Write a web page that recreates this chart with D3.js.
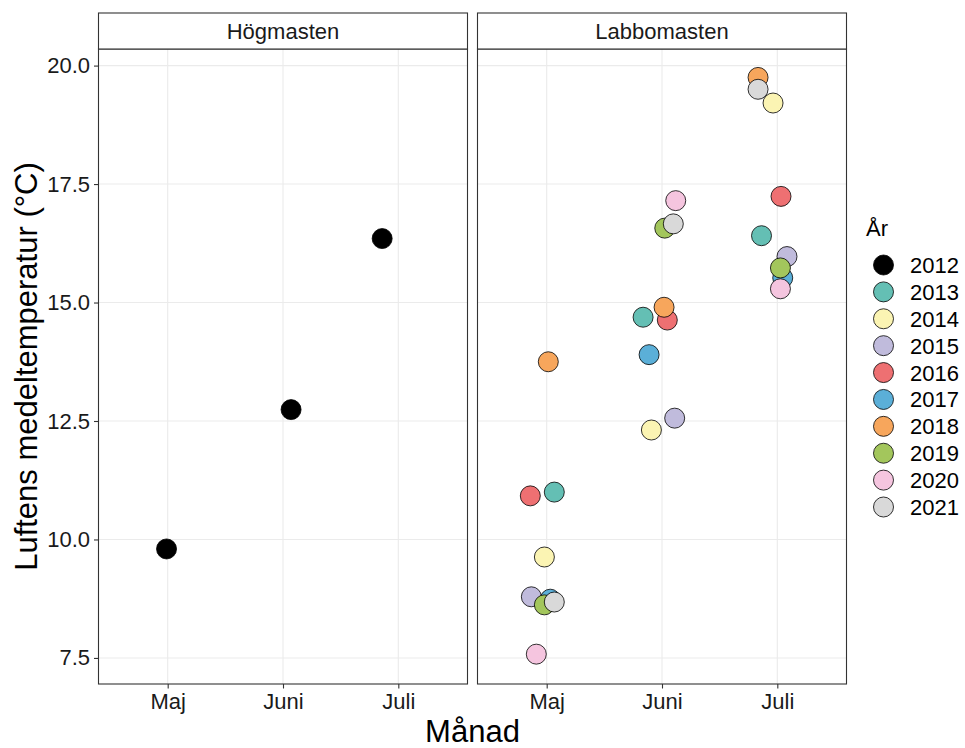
<!DOCTYPE html>
<html>
<head>
<meta charset="utf-8">
<script src="https://cdn.jsdelivr.net/npm/d3@7"></script>
<style>
  html, body { margin: 0; padding: 0; background: #ffffff; }
  svg { display: block; font-family: "Liberation Sans", Arial, sans-serif; }
</style>
</head>
<body>
<svg id="chart" width="965" height="748"></svg>
<script>
// Monthly mean air temperature at two masts, one point per year and month.
const months = ["Maj", "Juni", "Juli"];
const panels = ["Högmasten", "Labbomasten"];
const years = ["2012", "2013", "2014", "2015", "2016", "2017", "2018", "2019", "2020", "2021"];
const yearColors = ["#000000", "#64BFB4", "#FBF4B3", "#C0BBDC", "#EE7072", "#5BAFD8",
                    "#F7A65C", "#A3C65C", "#F5C5DF", "#D9D9D9"];
const yTicks = [7.5, 10.0, 12.5, 15.0, 17.5, 20.0];

// Högmasten, 2012 only: temperature per month and horizontal jitter (in month steps)
const hogTemp = [9.80, 12.74, 16.35];
const hogJitter = [-0.01, 0.07, -0.14];

// Labbomasten, 2013–2021: [Maj, Juni, Juli] temperatures and jitter per year
const labboYears = ["2013", "2014", "2015", "2016", "2017", "2018", "2019", "2020", "2021"];
const labboTemp = [
  [11.00, 14.69, 16.41],
  [9.63, 12.31, 19.21],
  [8.79, 12.56, 15.97],
  [10.92, 14.63, 17.24],
  [8.74, 13.90, 15.52],
  [13.75, 14.90, 19.75],
  [8.62, 16.57, 15.73],
  [7.58, 17.15, 15.29],
  [8.68, 16.66, 19.50]
];
const labboJitter = [
  [0.066, -0.164, -0.137],
  [-0.020, -0.092, -0.037],
  [-0.133, 0.110, 0.084],
  [-0.142, 0.046, 0.032],
  [0.031, -0.112, 0.047],
  [0.014, 0.018, -0.167],
  [-0.020, 0.024, 0.027],
  [-0.090, 0.119, 0.027],
  [0.066, 0.098, -0.167]
];

// Flat point lists per panel, in year order so later years sit on top
const pointsByPanel = {
  "Högmasten": months.map((m, i) => ({ year: "2012", month: m, temp: hogTemp[i], jit: hogJitter[i] })),
  "Labbomasten": labboYears.flatMap((yr, yi) =>
    months.map((m, mi) => ({ year: yr, month: m, temp: labboTemp[yi][mi], jit: labboJitter[yi][mi] })))
};

const svg = d3.select("#chart");
const panelTop = 49, panelBottom = 684, stripTop = 13;
const panelX = [[98.5, 467.5], [477.5, 846.5]];
const tickFont = 22, titleFont = 31, pointR = 10;

const color = d3.scaleOrdinal().domain(years).range(yearColors);
const y = d3.scaleLinear().domain([6.95, 20.35]).range([panelBottom, panelTop]);

panels.forEach((name, pi) => {
  const [x0, x1] = panelX[pi];
  const x = d3.scalePoint().domain(months).range([x0, x1]).padding(0.6);
  const step = x.step();
  const g = svg.append("g");

  // grid
  g.selectAll("line.hgrid").data(yTicks).join("line")
    .attr("x1", x0).attr("x2", x1)
    .attr("y1", d => y(d)).attr("y2", d => y(d))
    .attr("stroke", "#EBEBEB").attr("stroke-width", 1.1);
  g.selectAll("line.vgrid").data(months).join("line")
    .attr("x1", d => x(d)).attr("x2", d => x(d))
    .attr("y1", panelTop).attr("y2", panelBottom)
    .attr("stroke", "#EBEBEB").attr("stroke-width", 1.1);

  // points
  g.selectAll("circle.pt").data(pointsByPanel[name]).join("circle")
    .attr("cx", d => x(d.month) + d.jit * step)
    .attr("cy", d => y(d.temp))
    .attr("r", pointR)
    .attr("fill", d => color(d.year))
    .attr("stroke", "#000")
    .attr("stroke-width", 0.8);

  // panel border
  g.append("rect").attr("x", x0).attr("y", panelTop)
    .attr("width", x1 - x0).attr("height", panelBottom - panelTop)
    .attr("fill", "none").attr("stroke", "#333333").attr("stroke-width", 1.1);

  // strip
  g.append("rect").attr("x", x0).attr("y", stripTop)
    .attr("width", x1 - x0).attr("height", panelTop - stripTop)
    .attr("fill", "#ffffff").attr("stroke", "#333333").attr("stroke-width", 1.1);
  g.append("text").attr("x", (x0 + x1) / 2).attr("y", (stripTop + panelTop) / 2 + 7.5)
    .attr("text-anchor", "middle").attr("font-size", 22).attr("fill", "#1A1A1A")
    .text(name);

  // x axis
  const xAxis = g.append("g").attr("transform", `translate(0,${panelBottom})`)
    .call(d3.axisBottom(x).tickSize(4.5).tickPadding(5));
  xAxis.select(".domain").remove();
  xAxis.selectAll(".tick line").attr("stroke", "#333333").attr("stroke-width", 1.1);
  xAxis.selectAll(".tick text").attr("font-size", tickFont).attr("fill", "#1A1A1A")
    .attr("font-family", "Liberation Sans, Arial, sans-serif");

  // y axis on the first panel only
  if (pi === 0) {
    const yAxis = g.append("g").attr("transform", `translate(${x0},0)`)
      .call(d3.axisLeft(y).tickValues(yTicks).tickFormat(d3.format(".1f")).tickSize(4.5).tickPadding(4));
    yAxis.select(".domain").remove();
    yAxis.selectAll(".tick line").attr("stroke", "#333333").attr("stroke-width", 1.1);
    yAxis.selectAll(".tick text").attr("font-size", tickFont).attr("fill", "#1A1A1A")
      .attr("font-family", "Liberation Sans, Arial, sans-serif");
  }
});

// axis titles
svg.append("text")
  .attr("x", (panelX[0][0] + panelX[1][1]) / 2).attr("y", 742)
  .attr("text-anchor", "middle").attr("font-size", titleFont).attr("fill", "#000")
  .text("Månad");
svg.append("text")
  .attr("transform", `translate(37,${(panelTop + panelBottom) / 2}) rotate(-90)`)
  .attr("text-anchor", "middle").attr("font-size", titleFont).attr("fill", "#000")
  .text("Luftens medeltemperatur (°C)");

// legend
const legend = svg.append("g").attr("transform", "translate(866,0)");
legend.append("text").attr("x", 0).attr("y", 236)
  .attr("font-size", tickFont).attr("fill", "#000").text("År");
const legendRow = d3.scalePoint().domain(years).range([265, 507]);
const rows = legend.selectAll("g.row").data(years).join("g")
  .attr("transform", d => `translate(0,${legendRow(d)})`);
rows.append("circle").attr("cx", 17.5).attr("cy", 0).attr("r", pointR)
  .attr("fill", d => color(d)).attr("stroke", "#000").attr("stroke-width", 0.8);
rows.append("text").attr("x", 44).attr("y", 8)
  .attr("font-size", tickFont).attr("fill", "#000").text(d => d);
</script>
</body>
</html>
